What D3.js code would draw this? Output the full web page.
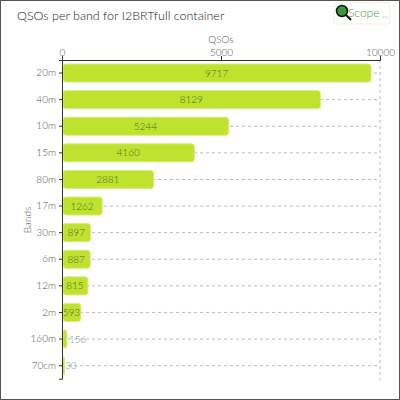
<!DOCTYPE html><html><head><meta charset="utf-8"><script src="https://cdn.jsdelivr.net/npm/d3@7"></script>
<style>body{margin:0;background:#fff}text{font-family:Lato,"Open Sans",sans-serif;font-weight:300}</style></head><body><svg id="c" width="400" height="400"></svg>
<script>
const bands=["20m","40m","10m","15m","80m","17m","30m","6m","12m","2m","160m","70cm"];
const qsos=[9717,8129,5244,4160,2881,1262,897,887,815,593,156,30];
const xTicks=[0,5000,10000];
const svg=d3.select("#c");
svg.append("rect").attr("x",0.5).attr("y",0.5).attr("width",399).attr("height",399).attr("fill","#fff").attr("stroke","#555");
svg.append("text").attr("x",17).attr("y",20).attr("font-size",12.5).attr("fill","#222").attr("font-weight",400).text("QSOs per band for I2BRTfull container");
const lg=svg.append("g");
lg.append("rect").attr("x",334).attr("y",3).attr("width",56).attr("height",21).attr("rx",3).attr("fill","#fff").attr("stroke","#eef3d8");
lg.append("circle").attr("cx",342).attr("cy",11).attr("r",5.5).attr("fill","#3a9a3a").attr("stroke","#111").attr("stroke-width",1.5);
lg.append("line").attr("x1",346).attr("y1",15).attr("x2",351).attr("y2",20).attr("stroke","#111").attr("stroke-width",2);
lg.append("text").attr("x",348).attr("y",17).attr("font-size",12).attr("font-weight",700).attr("fill","#3fa535").text("Scope");
lg.append("text").attr("x",381).attr("y",18).attr("font-size",4).attr("fill","#9c9").text(".org");
const x=d3.scaleLinear().domain([0,10000]).range([62,380]);
const y=d3.scaleBand().domain(bands).range([60,378.7]).paddingInner(0.32).paddingOuter(0.15);
const g=svg.append("g");
bands.forEach(b=>{g.append("line").attr("x1",62).attr("x2",380).attr("y1",y(b)+y.bandwidth()/2).attr("y2",y(b)+y.bandwidth()/2).attr("stroke","#bbb").attr("stroke-dasharray","3,3");});
g.append("line").attr("x1",380).attr("x2",380).attr("y1",60).attr("y2",380).attr("stroke","#bbb").attr("stroke-dasharray","3,3");
g.selectAll("rect.b").data(qsos).enter().append("rect").attr("class","b").attr("x",x(0)+1).attr("y",(d,i)=>y(bands[i])).attr("width",d=>Math.max(1.5,x(d)-x(0)-1)).attr("height",y.bandwidth()).attr("rx",3).attr("fill","#bfe22e").attr("stroke","#d6ef7a");
g.selectAll("text.v").data(qsos).enter().append("text").attr("font-size",10)
 .attr("x",(d,i)=>d>500?(x(0)+x(d))/2:x(d)+2).attr("text-anchor",d=>d>500?"middle":"start")
 .attr("y",(d,i)=>y(bands[i])+y.bandwidth()/2+3.5).attr("fill",d=>d>500?"#4a6a2a":"#6a9a9a").text(d=>d);
const xa=svg.append("g").attr("transform","translate(0,60)").call(d3.axisTop(x).tickValues(xTicks).tickSize(4).tickFormat(d3.format("d")));
const ya=svg.append("g").attr("transform","translate(62,0)").call(d3.axisLeft(y).tickSize(3));
[xa,ya].forEach(a=>{a.selectAll("path,line").attr("stroke","#333");a.selectAll("text").attr("font-size",10).attr("fill","#555").style("font-family","Lato,sans-serif").style("font-weight",300);});
svg.append("text").attr("x",221).attr("y",43).attr("text-anchor","middle").attr("font-size",10).attr("fill","#555").text("QSOs");
svg.append("text").attr("transform","translate(31,220) rotate(-90)").attr("text-anchor","middle").attr("font-size",10).attr("fill","#555").text("Bands");
xa.selectAll("text").attr("dy","0.25em");
</script></body></html>
